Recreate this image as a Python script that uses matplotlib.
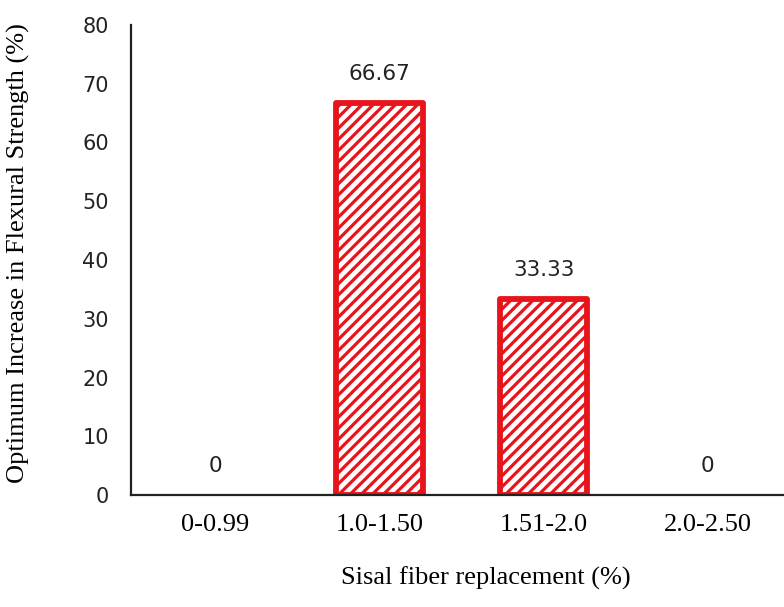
import matplotlib
matplotlib.use("Agg")
import matplotlib.pyplot as plt

categories = ["0-0.99", "1.0-1.50", "1.51-2.0", "2.0-2.50"]
values = [0, 66.67, 33.33, 0]
value_labels = ["0", "66.67", "33.33", "0"]
yticks = [0, 10, 20, 30, 40, 50, 60, 70, 80]

red = "#e8141c"
plt.rcParams["hatch.linewidth"] = 2.3
plt.rcParams["hatch.color"] = red

fig = plt.figure(figsize=(7.84, 6.07), dpi=100)
ax = fig.add_axes([131 / 784, 1 - 495 / 607, 653 / 784, 470 / 607])

x = list(range(len(categories)))
edge_colors = [red if v > 0 else "none" for v in values]
bars = ax.bar(x, values, width=0.53, facecolor="white", edgecolor=edge_colors,
              linewidth=4.2, hatch="///", zorder=2)
for b in bars:
    b.set_joinstyle("round")

for xi, v, lab in zip(x, values, value_labels):
    ax.annotate(lab, (xi, v), xytext=(0, 19), textcoords="offset pixels",
                ha="center", va="bottom", fontsize=15.5, family="DejaVu Sans",
                color="#222222")

ax.set_xlim(-0.511, 3.463)
ax.set_ylim(0, 80)
ax.set_yticks(yticks)
ax.set_xticks(x)
ax.set_xticklabels(categories, family="Liberation Serif", fontsize=19)
ax.tick_params(axis="y", length=0, pad=16, labelsize=15)
ax.tick_params(axis="x", length=0, pad=14)
for t in ax.get_yticklabels():
    t.set_family("DejaVu Sans")
    t.set_color("#222222")

ax.spines["top"].set_visible(False)
ax.spines["right"].set_visible(False)
ax.spines["left"].set_linewidth(1.6)
ax.spines["bottom"].set_linewidth(1.6)
ax.spines["left"].set_color("#222222")
ax.spines["bottom"].set_color("#222222")

ax.set_ylabel("Optimum Increase in Flexural Strength (%)", family="Liberation Serif",
              fontsize=19, va="center")
ax.yaxis.set_label_coords(-0.173, 0.515)
ax.set_xlabel("Sisal fiber replacement (%)", family="Liberation Serif",
              fontsize=19, va="center")
ax.xaxis.set_label_coords(0.544, -0.177)

fig.savefig("out.png", dpi=100)
